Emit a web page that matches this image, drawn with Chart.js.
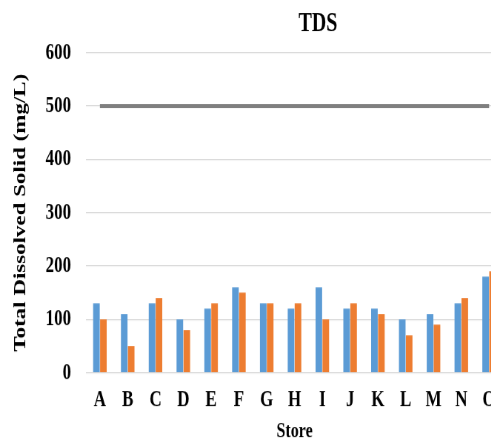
<!DOCTYPE html>
<html>
<head>
<meta charset="utf-8">
<script src="https://cdn.jsdelivr.net/npm/chart.js@4"></script>
<style>
  html, body { margin: 0; padding: 0; background: #fff; overflow: hidden; }
  #wrap { width: 491px; height: 440px; overflow: hidden; }
  /* the source picture is stretched vertically, so stretch the canvas the same way */
  #tdsChart { transform: scaleY(1.35); transform-origin: 0 0; }
</style>
</head>
<body>
<div id="wrap"><canvas id="tdsChart" width="520" height="326"></canvas></div>
<script>
const C_BLUE = '#5b9bd5';
const C_ORANGE = '#ed7d31';
const C_LIMIT = '#7f7f7f';
const C_GRID = '#d9d9d9';
const SERIF = "'Liberation Serif', 'Times New Roman', serif";

const stores = ['A', 'B', 'C', 'D', 'E', 'F', 'G', 'H', 'I', 'J', 'K', 'L', 'M', 'N', 'O'];
const seriesBlue = [130, 110, 130, 100, 120, 160, 130, 120, 160, 120, 120, 100, 110, 130, 180];
const seriesOrange = [100, 50, 140, 80, 130, 150, 130, 130, 100, 130, 110, 70, 90, 140, 190];
const limit = [500, 500, 500, 500, 500, 500, 500, 500, 500, 500, 500, 500, 500, 500, 500];

// title sits off-centre in the original, draw it by hand
const titlePlugin = {
    id: 'tdsTitle',
    afterDraw(chart) {
        const ctx = chart.ctx;
        ctx.save();
        ctx.font = 'bold 20px ' + SERIF;
        ctx.fillStyle = '#000';
        ctx.textAlign = 'center';
        ctx.textBaseline = 'middle';
        ctx.fillText('TDS', 318, 18);
        ctx.restore();
    }
};

let canvas = document.getElementById('tdsChart');
let config = {
    type: 'bar',
    data: {
        labels: stores,
        datasets: [
            {
                type: 'line',
                label: 'Limit',
                data: limit,
                borderColor: C_LIMIT,
                backgroundColor: C_LIMIT,
                borderWidth: 3,
                pointRadius: 0,
                order: 0
            },
            {
                label: 'Series 1',
                data: seriesBlue,
                backgroundColor: C_BLUE,
                borderWidth: 0,
                categoryPercentage: 0.5,
                barPercentage: 0.95,
                order: 1
            },
            {
                label: 'Series 2',
                data: seriesOrange,
                backgroundColor: C_ORANGE,
                borderWidth: 0,
                categoryPercentage: 0.5,
                barPercentage: 0.95,
                order: 1
            }
        ]
    },
    options: {
        responsive: false,
        animation: false,
        devicePixelRatio: 1.35,
        layout: { padding: { top: 39, right: 17, bottom: 0, left: 0 } },
        plugins: {
            legend: { display: false },
            tooltip: { enabled: false }
        },
        scales: {
            x: {
                grid: { display: false, drawTicks: false },
                border: { display: false },
                ticks: {
                    color: '#000',
                    padding: 10,
                    font: { family: SERIF, size: 17, weight: 'bold' }
                },
                title: {
                    display: true,
                    text: 'Store',
                    color: '#000',
                    padding: { top: 0, bottom: 0 },
                    font: { family: SERIF, size: 16, weight: 'bold', lineHeight: 0.8 }
                },
                afterFit(axis) { axis.height = 50; }
            },
            y: {
                min: 0,
                max: 600,
                grid: { color: C_GRID, lineWidth: 1, drawTicks: false },
                border: { display: false },
                ticks: {
                    stepSize: 100,
                    color: '#000',
                    padding: 15,
                    font: { family: SERIF, size: 17, weight: 'bold' }
                },
                title: {
                    display: true,
                    text: 'Total Dissolved Solid (mg/L)',
                    color: '#000',
                    padding: { top: 12, bottom: 0 },
                    font: { family: SERIF, size: 17, weight: 'bold', lineHeight: 1 }
                },
                afterFit(axis) { axis.width = 86; }
            }
        }
    },
    plugins: [titlePlugin]
};
let chart = new Chart(canvas, config);
</script>
</body>
</html>
